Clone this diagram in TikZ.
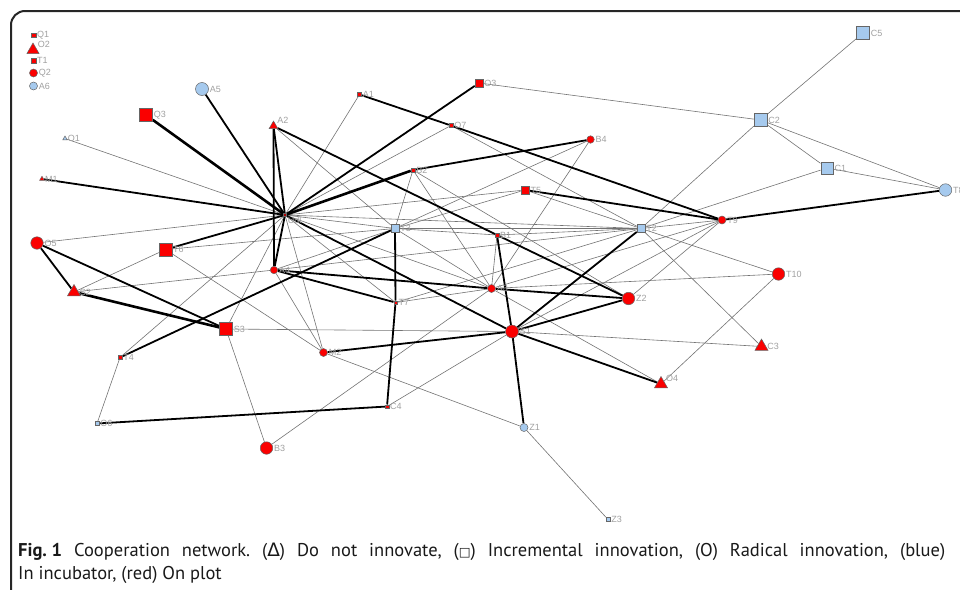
\documentclass[tikz,border=0pt]{standalone}
\usepackage{fontspec}
\setmainfont{PT Sans}
\newfontfamily\labfont{Liberation Sans}
\newfontfamily\symfont{DejaVu Sans}
\usetikzlibrary{shapes.geometric,backgrounds}

\definecolor{incub}{RGB}{166,202,238}
\definecolor{plot}{RGB}{250,0,0}
\definecolor{labgray}{RGB}{160,160,160}
\definecolor{linkgray}{RGB}{115,115,115}

\tikzstyle{lab}=[font=\labfont\fontsize{9}{9}\selectfont,text=labgray,inner sep=1pt]
\tikzstyle{weak}=[linkgray,line width=0.6pt]
\tikzstyle{strong}=[black,line width=1.8pt]
\tikzstyle{heavy}=[black,line width=2.6pt]
\tikzstyle{frame}=[black!85,line width=2pt,rounded corners=14pt]
\tikzstyle{capt}=[font=\fontsize{18.5}{20}\selectfont\frenchspacing,text=black!90,inner sep=0pt]
\tikzset{
  sqr/.style={rectangle,draw=black!60,line width=0.5pt,inner sep=0pt,minimum size=#1pt},
  cir/.style={circle,draw=black!60,line width=0.5pt,inner sep=0pt,minimum size=#1pt},
  tri/.style={regular polygon,regular polygon sides=3,draw=black!60,line width=0.5pt,inner sep=0pt,minimum size=#1pt}
}

\begin{document}
\begin{tikzpicture}[x=1pt,y=-1pt]
  \useasboundingbox (0,0) rectangle (960,589);
  \draw[frame] (11,11) rectangle (990,620);

  % isolates
  \node[sqr=4.5,fill=plot,label={[lab]right:Q1}] (Q1) at (33.5,35) {};
  \node[tri=14,fill=plot,label={[lab]20:O2}] (O2) at (33,50) {};
  \node[sqr=4.5,fill=plot,label={[lab]right:T1}] (T1) at (33.5,60.5) {};
  \node[cir=8,fill=plot,label={[lab]right:Q2}] (Q2) at (33.5,73) {};
  \node[cir=8,fill=incub,label={[lab]right:A6}] (A6) at (33.5,86) {};

  % network
  \node[sqr=3,fill=plot!70!black,label={[lab]-15:Udl}] (Udl) at (285,215) {};
  \node[cir=13,fill=incub,label={[lab]right:A5}] (A5) at (202,89) {};
  \node[sqr=13,fill=plot,label={[lab]right:Q3}] (Q3) at (146,115) {};
  \node[sqr=4,fill=plot,label={[lab]right:A1}] (A1) at (359.5,94.5) {};
  \node[sqr=8,fill=plot,label={[lab]right:O3}] (O3) at (479,83) {};
  \node[tri=10,fill=plot,label={[lab]20:A2}] (A2) at (273.5,126) {};
  \node[sqr=4,fill=plot,label={[lab]right:O7}] (O7) at (451,125.5) {};
  \node[tri=5,fill=incub,label={[lab]right:O1}] (O1) at (65,138.5) {};
  \node[tri=5.5,fill=plot,label={[lab]right:M1}] (M1) at (42,179) {};
  \node[sqr=4,fill=plot,label={[lab]right:B2}] (B2) at (413,170) {};
  \node[cir=7.5,fill=plot,label={[lab]right:B4}] (B4) at (590.5,139.5) {};
  \node[sqr=8.5,fill=plot,label={[lab]right:T5}] (T5) at (525,190) {};
  \node[sqr=8,fill=incub,label={[lab]right:T3}] (T3) at (395,228.5) {};
  \node[sqr=3.5,fill=plot,label={[lab]right:B1}] (B1) at (497,235) {};
  \node[sqr=8,fill=incub,label={[lab]right:T2}] (T2) at (641,228.5) {};
  \node[cir=8,fill=plot,label={[lab]right:T9}] (T9) at (722,220) {};
  \node[sqr=13,fill=incub,label={[lab]right:C5}] (C5) at (863,33) {};
  \node[sqr=13,fill=incub,label={[lab]right:C2}] (C2) at (760.5,120) {};
  \node[sqr=12.5,fill=incub,label={[lab]right:C1}] (C1) at (827,168) {};
  \node[cir=12.5,fill=incub,label={[lab]right:T8}] (T8) at (945.5,190) {};
  \node[cir=12.5,fill=plot,label={[lab]right:O5}] (O5) at (37,243) {};
  \node[sqr=12.5,fill=plot,label={[lab]right:T6}] (T6) at (165.5,249.5) {};
  \node[cir=7.5,fill=plot,label={[lab]right:A4}] (A4) at (274,270) {};
  \node[tri=15,fill=plot,label={[lab]right:S2}] (S2) at (74,292) {};
  \node[cir=8,fill=plot,label={[lab]right:A3}] (A3) at (491.5,288.5) {};
  \node[cir=12.5,fill=plot,label={[lab]right:T10}] (T10) at (778.5,274) {};
  \node[cir=12.5,fill=plot,label={[lab]right:Z2}] (Z2) at (628.5,298.5) {};
  \node[sqr=3.5,fill=plot,label={[lab]right:T7}] (T7) at (395.5,302.5) {};
  \node[cir=13,fill=plot,label={[lab]right:S1}] (S1) at (512,331.5) {};
  \node[sqr=13,fill=plot,label={[lab]right:S3}] (S3) at (226,329) {};
  \node[cir=8,fill=plot,label={[lab]right:M2}] (M2) at (323.5,352.5) {};
  \node[tri=15,fill=plot,label={[lab]right:C3}] (C3) at (761.5,346.5) {};
  \node[tri=15,fill=plot,label={[lab]20:O4}] (O4) at (661,384) {};
  \node[sqr=4,fill=plot,label={[lab]right:T4}] (T4) at (120,357.5) {};
  \node[sqr=3.5,fill=plot,label={[lab]right:C4}] (C4) at (387,406.5) {};
  \node[sqr=4,fill=incub,label={[lab]right:O6}] (O6) at (97,423.5) {};
  \node[cir=8,fill=incub,label={[lab]right:Z1}] (Z1) at (524,427.5) {};
  \node[cir=12.5,fill=plot,label={[lab]right:B3}] (B3) at (266.5,448) {};
  \node[sqr=4,fill=incub,label={[lab]right:Z3}] (Z3) at (608,519.5) {};

  \begin{scope}[on background layer]
    \foreach \a/\b in {Udl/O1,Udl/O5,Udl/T4,Udl/S3,Udl/A1,Udl/O7,Udl/T5,Udl/T3,
        Udl/T2,Udl/T7,Udl/A3,Udl/M2,A2/T3,O3/C2,O7/T2,B2/T3,B2/A3,B2/Z2,
        B4/A3,B4/T3,T5/T3,T5/T2,T3/T2,T3/B1,B1/T2,T3/A3,A4/S2,A4/M2,A4/T3,
        A4/T2,T6/T3,T6/M2,S2/T6,S3/S1,S3/B3,B3/A3,T4/O6,M2/Z1,C4/S1,Z1/Z3,
        A3/B1,A3/T7,A3/T10,A3/O4,A3/T9,S1/C3,S1/T9,T2/C2,T2/C1,T2/T9,T2/T10,
        T2/C3,T9/Z2,T10/O4,C2/C5,C2/C1,C2/T8,C1/T8,T7/T2}
      \draw[weak] (\a) -- (\b);
    \foreach \a/\b in {Udl/A5,Udl/M1,Udl/A2,Udl/A4,Udl/T6,Udl/O3,Udl/S1,
        A2/A4,A2/B1,B1/Z2,A1/O7,O7/T9,B2/B4,T5/T9,T9/T8,O5/S2,O5/S3,A4/A3,
        A4/T7,A3/Z2,T4/T3,T3/T7,T7/C4,C4/O6,M2/S1,S1/B1,S1/T2,S1/Z2,S1/O4,S1/Z1}
      \draw[strong] (\a) -- (\b);
    \foreach \a/\b in {Udl/Q3,Udl/B2,S2/S3}
      \draw[heavy] (\a) -- (\b);
  \end{scope}

  % caption (first line set justified)
  \node[capt,anchor=base west] (cap1) at (18,556)
    {\makebox[927pt][s]{\mbox{\textbf{Fig.~1}} Cooperation network. ({\symfont Δ}) Do not innovate, ({\symfont\fontsize{12.5}{12.5}\selectfont □}) Incremental innovation, (O) Radical innovation, (blue)}};
  \node[capt,anchor=base west] (cap2) at (18,579) {In incubator, (red) On plot};
\end{tikzpicture}
\end{document}
